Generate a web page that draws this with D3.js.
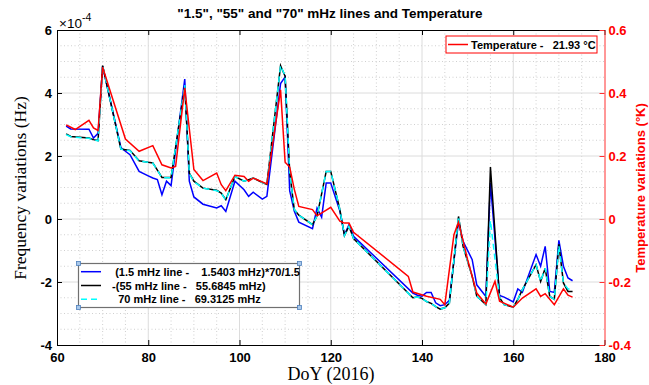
<!DOCTYPE html>
<html>
<head>
<meta charset="utf-8">
<script src="https://cdn.jsdelivr.net/npm/d3@7"></script>
<style>
  body { margin: 0; background: #fff; }
  text { font-family: "Liberation Sans", Arial, sans-serif; }
  .serif { font-family: "Liberation Serif", "Times New Roman", serif; }
  .pre { white-space: pre; }
</style>
</head>
<body>
<svg></svg>
<script>
// data (frequency in units of 1e-4 Hz, temperature in K)
const freqDays = [62, 63, 67, 68, 69, 70, 74, 75, 76, 78, 80, 81, 82, 83, 84, 85, 88, 89, 90, 92,
  95, 96, 97, 99, 101, 102, 103, 105, 106, 109, 110, 111, 112, 113, 116, 117, 118, 119, 120, 122,
  123, 124, 125, 138, 139, 140, 141, 142, 143, 144, 145, 146, 148, 149, 151, 152, 154, 155, 157, 158,
  160, 161, 162, 165, 166, 167, 168, 169, 170, 171, 172, 173];

const blue15 = [2.95, 2.86, 2.85, 2.57, 2.72, 4.85, 2.27, 2.15, 2.04, 1.51, 1.37, 1.30, 1.25, 0.77, 1.20, 1.06, 4.44, 1.20, 0.70, 0.47,
  0.35, 0.42, 0.24, 1.20, 0.93, 0.72, 0.85, 0.63, 0.72, 4.30, 4.51, 0.90, 0.25, -0.10, -0.31, 0.35, 0.06, 1.14, 1.14, 0.25,
  -0.50, -0.18, -0.55, -2.35, -2.42, -2.45, -2.33, -2.33, -2.66, -2.75, -2.72, -2.58, -0.08, -0.71, -1.29, -2.09, -2.46, 1.14, -2.43, -2.48,
  -2.63, -2.22, -2.33, -1.13, -1.50, -0.87, -2.30, -2.33, -0.68, -1.50, -1.87, -1.96];

const black55 = [2.70, 2.62, 2.57, 2.52, 2.49, 4.87, 2.22, 2.20, 2.18, 1.85, 1.80, 1.78, 1.55, 1.32, 1.32, 1.32, 4.20, 1.46, 1.20, 0.98,
  0.91, 0.82, 0.61, 1.35, 1.20, 1.25, 1.30, 1.16, 1.10, 4.87, 4.53, 1.50, 0.30, 0.12, -0.18, 0.10, 0.80, 1.51, 1.51, 0.30,
  -0.53, -0.23, -0.62, -2.50, -2.48, -2.52, -2.62, -2.68, -2.78, -2.86, -2.82, -2.67, 0.08, -0.87, -1.82, -2.45, -2.72, 1.65, -2.50, -2.72,
  -2.80, -2.55, -2.24, -1.45, -1.98, -1.56, -2.46, -2.55, -0.80, -2.03, -2.30, -2.30];

const cyan70 = [2.68, 2.61, 2.56, 2.51, 2.48, 4.87, 2.22, 2.19, 2.17, 1.84, 1.80, 1.77, 1.55, 1.31, 1.31, 1.31, 4.25, 1.45, 1.19, 0.98,
  0.90, 0.82, 0.60, 1.35, 1.20, 1.25, 1.30, 1.16, 1.10, 4.87, 4.55, 1.50, 0.30, 0.12, -0.18, 0.10, 0.80, 1.51, 1.51, 0.30,
  -0.53, -0.23, -0.62, -2.50, -2.48, -2.52, -2.62, -2.68, -2.78, -2.86, -2.82, -2.67, 0.08, -0.87, -1.82, -2.45, -2.72, -0.05, -2.50, -2.72,
  -2.80, -2.55, -2.24, -1.45, -1.98, -1.56, -2.46, -2.55, -0.85, -2.03, -2.22, -2.22];

const tempDays = [62, 64, 67, 68, 69, 70, 75, 78, 81, 83, 85, 86, 88, 90, 92, 95, 96, 97, 99, 101,
  102, 103, 106, 109, 110, 111, 112, 113, 116, 117, 120, 122, 123, 124, 125, 137, 138, 141, 144, 145,
  147, 148, 150, 152, 154, 156, 157, 160, 162, 165, 166, 167, 169, 171, 172, 173];

const tempK = [0.299, 0.284, 0.313, 0.289, 0.281, 0.482, 0.254, 0.215, 0.233, 0.172, 0.162, 0.167, 0.416, 0.157, 0.122, 0.146, 0.109, 0.090, 0.139, 0.135,
  0.120, 0.130, 0.111, 0.410, 0.180, 0.165, 0.095, 0.040, 0.030, 0.010, 0.037, -0.007, -0.013, -0.013, -0.042, -0.182, -0.232, -0.245, -0.255, -0.272,
  -0.050, -0.010, -0.129, -0.235, -0.270, -0.198, -0.261, -0.280, -0.251, -0.222, -0.246, -0.237, -0.272, -0.222, -0.242, -0.248];

const xTicks = [60, 80, 100, 120, 140, 160, 180];
const yTicks = [-4, -2, 0, 2, 4, 6];
const yRightTicks = [-0.4, -0.2, 0, 0.2, 0.4, 0.6];

const seriesLabels = ["   (1.5 mHz line -    1.5403 mHz)*70/1.5",
  "  -(55 mHz line -   55.6845 mHz)",
  "    70 mHz line -   69.3125 mHz"];
const tempLabel = "Temperature -   21.93 °C";

// layout
const width = 649, height = 385;
const mLeft = 57, mRight = 604.5, mTop = 30, mBottom = 345;

const svg = d3.select("svg")
    .attr("width", width)
    .attr("height", height);

const x = d3.scaleLinear().domain([60, 180]).range([mLeft, mRight]);
const y = d3.scaleLinear().domain([-4, 6]).range([mBottom, mTop]);
const yR = d3.scaleLinear().domain([-0.4, 0.6]).range([mBottom, mTop]);

// grid: minor dotted, then major solid
const minorX = d3.range(65, 180, 5).filter(d => d % 20 !== 0);
const minorY = d3.range(-3.5, 6, 0.5).filter(d => d % 2 !== 0);

const grid = svg.append("g");
grid.selectAll(".mx").data(minorX).enter().append("line")
    .attr("x1", d => x(d)).attr("x2", d => x(d))
    .attr("y1", mTop).attr("y2", mBottom)
    .attr("stroke", "#c4c4c4").attr("stroke-width", 0.8).attr("stroke-dasharray", "1,2.5");
grid.selectAll(".my").data(minorY).enter().append("line")
    .attr("x1", mLeft).attr("x2", mRight)
    .attr("y1", d => y(d)).attr("y2", d => y(d))
    .attr("stroke", "#c4c4c4").attr("stroke-width", 0.8).attr("stroke-dasharray", "1,2.5");
grid.selectAll(".gx").data(xTicks.slice(1, -1)).enter().append("line")
    .attr("x1", d => x(d)).attr("x2", d => x(d))
    .attr("y1", mTop).attr("y2", mBottom)
    .attr("stroke", "#dcdcdc").attr("stroke-width", 1);
grid.selectAll(".gy").data(yTicks.slice(1, -1)).enter().append("line")
    .attr("x1", mLeft).attr("x2", mRight)
    .attr("y1", d => y(d)).attr("y2", d => y(d))
    .attr("stroke", "#dcdcdc").attr("stroke-width", 1);

// lines
const freqLine = vals => d3.line()
    .x((d, i) => x(freqDays[i]))
    .y(d => y(d))(vals);

svg.append("path").attr("d", freqLine(blue15))
    .attr("fill", "none").attr("stroke", "#0000ff").attr("stroke-width", 1.5);
svg.append("path").attr("d", freqLine(black55))
    .attr("fill", "none").attr("stroke", "#000").attr("stroke-width", 1.5);
svg.append("path").attr("d", freqLine(cyan70))
    .attr("fill", "none").attr("stroke", "#00ffff").attr("stroke-width", 1.5)
    .attr("stroke-dasharray", "6,4");

const tempLine = d3.line()
    .x((d, i) => x(tempDays[i]))
    .y(d => yR(d));
svg.append("path").attr("d", tempLine(tempK))
    .attr("fill", "none").attr("stroke", "#ff0000").attr("stroke-width", 1.5);

// axes
const fmt = d => String(d).replace("\u2212", "-");

const axB = svg.append("g").attr("transform", `translate(0,${mBottom})`)
    .call(d3.axisBottom(x).tickValues(xTicks).tickSize(-5).tickSizeOuter(0).tickPadding(7.8).tickFormat(fmt));
const axT = svg.append("g").attr("transform", `translate(0,${mTop})`)
    .call(d3.axisTop(x).tickValues(xTicks).tickSize(-5).tickSizeOuter(0).tickFormat(""));
const axL = svg.append("g").attr("transform", `translate(${mLeft},0)`)
    .call(d3.axisLeft(y).tickValues(yTicks).tickSize(-5).tickSizeOuter(0).tickPadding(5).tickFormat(fmt));
const axR = svg.append("g").attr("transform", `translate(${mRight},0)`)
    .call(d3.axisRight(yR).tickValues(yRightTicks).tickSize(-5).tickSizeOuter(0).tickPadding(4)
      .tickFormat(d => d === 0 ? "0" : d3.format(".1f")(d).replace("\u2212", "-")));

[axB, axT, axL].forEach(a => {
  a.select(".domain").attr("stroke", "#000").attr("stroke-width", 1);
  a.selectAll(".tick line").attr("stroke", "#000");
});
axR.select(".domain").attr("stroke", "#ff3030").attr("stroke-width", 1);
axR.selectAll(".tick line").attr("stroke", "#ff3030");

[axB, axL, axR].forEach(a => a.selectAll("text")
    .attr("font-family", "Liberation Sans, Arial, sans-serif")
    .attr("font-size", 13).attr("font-weight", "bold"));
axB.selectAll("text").attr("fill", "#000");
axL.selectAll("text").attr("fill", "#000");
axR.selectAll("text").attr("fill", "#ff0000");

// exponent
const ex = svg.append("text").attr("x", 59).attr("y", 28).attr("font-size", 13.5).text("\u00d710");
ex.append("tspan").attr("dy", -7).attr("font-size", 10.5).text("-4");

// title and axis labels
svg.append("text").attr("x", 330).attr("y", 18).attr("text-anchor", "middle")
    .attr("font-size", 13.5).attr("font-weight", "bold")
    .text('"1.5", "55" and "70" mHz lines and Temperature');

svg.append("text").attr("class", "serif").attr("text-anchor", "middle")
    .attr("transform", "translate(26,188) rotate(-90)")
    .attr("font-size", 17.5).text("Frequency variations (Hz)");

svg.append("text").attr("class", "serif").attr("text-anchor", "middle")
    .attr("x", 331).attr("y", 380)
    .attr("font-size", 18).text("DoY (2016)");

svg.append("text").attr("text-anchor", "middle")
    .attr("transform", "translate(645,188) rotate(-90)")
    .attr("font-size", 13).attr("font-weight", "bold").attr("fill", "#ff0000")
    .text("Temperature variations (°K)");

// temperature legend
const lg1 = svg.append("g");
lg1.append("rect").attr("x", 446).attr("y", 36).attr("width", 151).attr("height", 17)
    .attr("fill", "#fff").attr("stroke", "#ff0000").attr("stroke-width", 1);
lg1.append("line").attr("x1", 448).attr("x2", 468).attr("y1", 44.5).attr("y2", 44.5)
    .attr("stroke", "#ff0000").attr("stroke-width", 1.5);
lg1.append("text").attr("class", "pre").attr("x", 471).attr("y", 48.5)
    .attr("font-size", 11).attr("font-weight", "bold")
    .text(tempLabel);

// frequency legend
const legendColors = ["#0000ff", "#000000", "#00ffff"];
const lg2 = svg.append("g");
const lx = 78.5, ly = 263.5, lw = 221, lh = 44;
lg2.append("rect").attr("x", lx).attr("y", ly).attr("width", lw).attr("height", lh)
    .attr("fill", "#fff").attr("stroke", "#707070").attr("stroke-width", 1.2);
const rows = lg2.selectAll(".row").data(seriesLabels).enter().append("g")
    .attr("transform", (d, i) => `translate(0,${271.7 + i * 13.8})`);
rows.append("line").attr("x1", 81).attr("x2", 101).attr("y1", 0).attr("y2", 0)
    .attr("stroke", (d, i) => legendColors[i]).attr("stroke-width", 1.5)
    .attr("stroke-dasharray", (d, i) => i === 2 ? "6,4" : null);
rows.append("text").attr("class", "pre").attr("x", 106).attr("y", 4)
    .attr("font-size", 11).attr("font-weight", "bold")
    .text(d => d);
// selection handles at the corners
lg2.selectAll(".h").data([[lx, ly], [lx + lw, ly], [lx, ly + lh], [lx + lw, ly + lh]]).enter().append("rect")
    .attr("x", d => d[0] - 2).attr("y", d => d[1] - 2).attr("width", 4).attr("height", 4)
    .attr("fill", "#a9c8ea").attr("stroke", "#4f81bd").attr("stroke-width", 0.8);
</script>
</body>
</html>
